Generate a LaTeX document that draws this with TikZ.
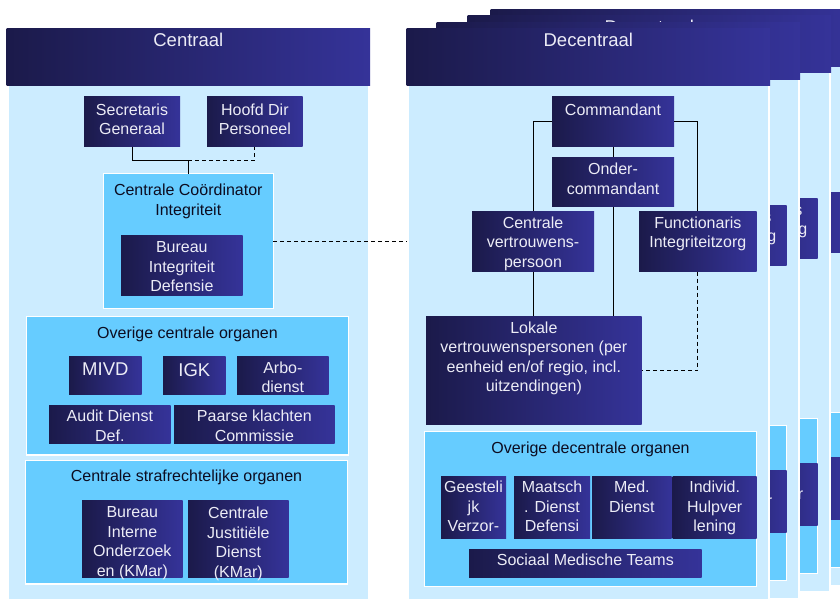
\documentclass[tikz,border=0pt]{standalone}
\usepackage{fontspec}
\setmainfont{Liberation Sans}
\definecolor{navyL}{RGB}{27,26,74}
\definecolor{navyR}{RGB}{53,51,153}
\definecolor{midblue}{RGB}{102,204,255}
\definecolor{lightblue}{RGB}{204,236,255}
\definecolor{boxtext}{RGB}{236,236,246}
\definecolor{titletext}{RGB}{12,12,32}
\tikzset{
  darkbox/.style={left color=navyL, right color=navyR, draw=none, inner sep=0pt, outer sep=0pt, anchor=north west},
  hdrbox/.style={darkbox},
  bodybox/.style={fill=lightblue, draw=none, inner sep=0pt, outer sep=0pt, anchor=north west},
  pagebg/.style={fill=white, draw=none, inner sep=0pt, outer sep=0pt, anchor=north west},
  midbox/.style={fill=midblue, draw=white, line width=1.2pt, inner sep=0pt, outer sep=0pt, anchor=north west},
  wtext/.style={text=boxtext, align=center, inner sep=0pt, font=\fontsize{16}{19.5}\selectfont, anchor=north},
  bigtext/.style={wtext, font=\fontsize{18.5}{21}\selectfont},
  htext/.style={text=boxtext, align=center, inner sep=0pt, font=\fontsize{18.5}{21}\selectfont, anchor=north},
  btext/.style={text=titletext, align=center, inner sep=0pt, font=\fontsize{16}{20}\selectfont, anchor=north},
  conn/.style={draw=black, line width=1pt},
  dconn/.style={conn, dash pattern=on 4pt off 3pt},
}
% style, name, x1, y1, x2, y2
\newcommand\boxat[6]{\node[#1, minimum width={(#5-#3)*1pt}, minimum height={(#6-#4)*1pt}] (#2) at (#3,#4) {};}
% name, x1, y1, x2, y2, offset, text
\newcommand\dboxt[7]{\boxat{darkbox}{#1}{#2}{#3}{#4}{#5}%
  \node[wtext] (#1-t) at ([yshift=-#6pt]#1.north) {#7};}
\newcommand\pageframe{%
  \boxat{pagebg}{dbg}{406.7}{28.3}{770}{605.5}
  \boxat{hdrbox}{dhead}{406.7}{28.3}{770}{85.7}}
\newcommand\pagebody{%
  \boxat{bodybox}{dbody}{409}{85.7}{768.3}{603.7}}
% a page of the stack that lies behind the front one: only its right strip shows
\newcommand\backpage{%
  \pagebody
  \dboxt{fiz}{639}{211}{756.7}{271.7}{5.3}{\phantom{Functionari}s\\\phantom{Integriteitzor}g}
  \boxat{midbox}{odo}{424.3}{431.7}{756.7}{586.7}
  \dboxt{ih}{672.7}{476}{756.7}{538.7}{5}{\phantom{Individ.}\\\phantom{Hulpve}r\\\phantom{lening}}
}
\newcommand\decpage{%
  \pageframe
  \node[htext] (dhead-t) at ([yshift=-5pt]dhead.north) {Decentraal};
  \pagebody
  \dboxt{cmd}{552}{97}{674}{146.7}{6.3}{Commandant}
  \dboxt{ond}{552}{157}{674}{206.7}{6}{Onder-\\commandant}
  \dboxt{cvp}{472}{211}{594}{271.7}{5.3}{Centrale\\vertrouwens-\\persoon}
  \dboxt{fiz}{639}{211}{756.7}{271.7}{5.3}{Functionaris\\Integriteitzorg}
  \dboxt{lok}{426}{316}{641.7}{424.7}{5.7}{Lokale\\vertrouwenspersonen (per\\eenheid en/of regio, incl.\\uitzendingen)}
  \draw[conn] (cmd.west) -| (cvp.north);
  \draw[conn] (cmd.east) -| (fiz.north);
  \draw[conn] (cmd.south) -- (ond.north);
  \draw[conn] (ond.south) -- (ond.south |- lok.north);
  \draw[conn] (cvp.south) -- (cvp.south |- lok.north);
  \draw[dconn] (fiz.south) |- (lok.east);
  \boxat{midbox}{odo}{424.3}{431.7}{756.7}{586.7}
  \node[btext] (odo-t) at ([yshift=-10pt]odo.north) {Overige decentrale organen};
  \dboxt{gv}{441}{476}{506}{538.7}{5}{Geesteli\\jk\\Verzor-}
  \dboxt{md}{514}{476}{590}{538.7}{5}{Maatsch\\. Dienst\\Defensi}
  \dboxt{med}{592}{476}{671.7}{538.7}{5}{Med.\\Dienst}
  \dboxt{ih}{672.7}{476}{756.7}{538.7}{5}{Individ.\\Hulpver\\lening}
  \dboxt{smt}{469}{549}{701.7}{577.3}{5}{Sociaal Medische Teams}
}
\begin{document}
\begin{tikzpicture}[x=1pt, y=-1pt]
\clip (0,0) rectangle (840,599);
\fill[white] (0,0) rectangle (840,599);
% ---------- Centraal ----------
\boxat{hdrbox}{chead}{6.7}{28.3}{370}{85.7}
\node[htext] (chead-t) at ([yshift=-5pt]chead.north) {Centraal};
\boxat{bodybox}{cbody}{9}{85.7}{367.7}{604}
\dboxt{sg}{84}{97}{180}{146.7}{6.3}{Secretaris\\Generaal}
\dboxt{hdp}{207}{97}{302.7}{146.7}{6.3}{Hoofd Dir\\Personeel}
\boxat{midbox}{cci}{103.3}{173.7}{273.3}{308.3}
\node[btext] (cci-t) at ([yshift=-9.7pt]cci.north) {Centrale Coördinator\\Integriteit};
\dboxt{bid}{121}{235}{242.7}{295.7}{6.7}{Bureau\\Integriteit\\Defensie}
\coordinate (cj) at (cci.north |- 0,160.3);
\draw[conn] (sg.south) |- (cj) -- (cci.north);
\draw[dconn] (cj) -| (hdp.south);
\boxat{midbox}{oco}{26.7}{316.7}{348.3}{455}
\node[btext] (oco-t) at ([yshift=-10pt]oco.north) {Overige centrale organen};
\boxat{darkbox}{mivd}{69}{356}{141.7}{394.7}
\node[bigtext] (mivd-t) at ([yshift=-7pt]mivd.north) {MIVD};
\boxat{darkbox}{igk}{163}{356}{225.7}{394.7}
\node[bigtext] (igk-t) at ([yshift=-7pt]igk.north) {IGK};
\dboxt{arbo}{237}{356}{328.7}{394.7}{5.7}{Arbo-\\dienst}
\dboxt{adf}{49}{405}{170.7}{443.7}{5}{Audit Dienst\\Def.}
\dboxt{pkc}{174}{405}{334.7}{443.7}{5}{Paarse klachten\\Commissie}
\boxat{midbox}{cso}{25.7}{460.3}{347.3}{584}
\node[btext] (cso-t) at ([yshift=-9.7pt]cso.north) {Centrale strafrechtelijke organen};
\dboxt{bio}{82}{500}{182.7}{577.7}{6.7}{Bureau\\Interne\\Onderzoek\\en (KMar)}
\dboxt{cjd}{188}{500}{288.7}{577.7}{6.7}{Centrale\\Justitiële\\Dienst\\(KMar)}
\coordinate (dedge) at (407,241);
\draw[dconn] (cci.east) -- (dedge);
% ---------- Decentraal stack ----------
\begin{scope}[shift={(84,-19)}, name prefix=p4-]\pageframe\backpage\end{scope}
\begin{scope}[shift={(61,-13)}, name prefix=p3-]\pageframe
  \node[htext] (dhead-t) at ([yshift=-5pt]dhead.north) {Decentraal};
  \backpage\end{scope}
\begin{scope}[shift={(30,-6)}, name prefix=p2-]\pageframe\backpage\end{scope}
\decpage
\end{tikzpicture}
\end{document}
